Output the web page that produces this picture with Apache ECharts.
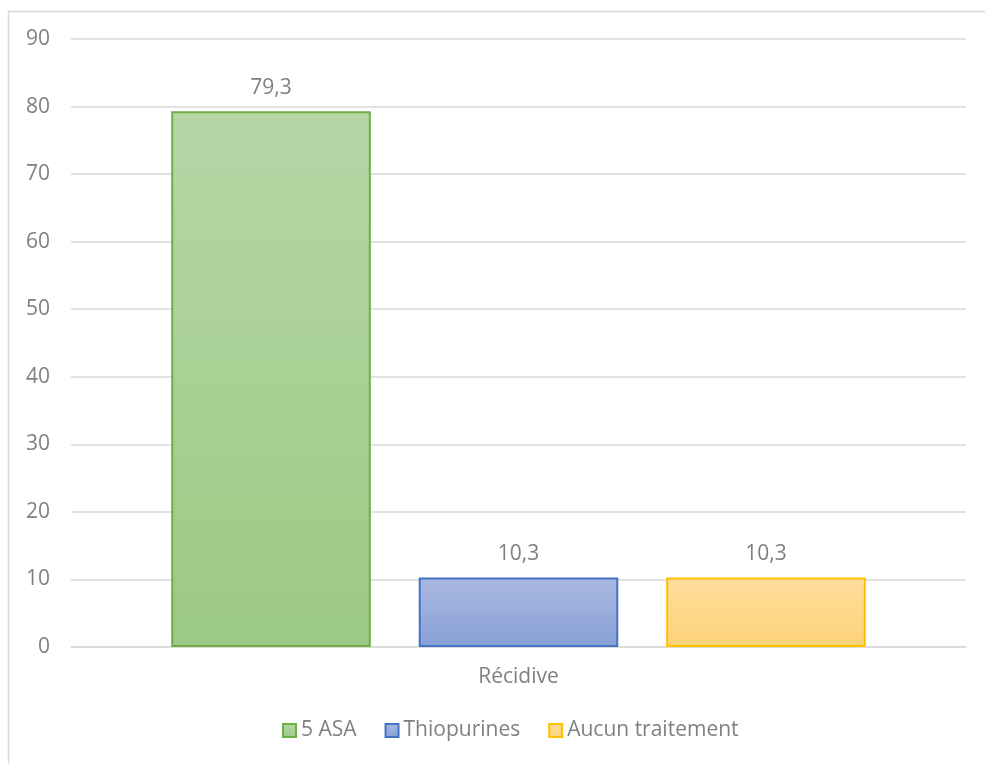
<!DOCTYPE html>
<html>
<head>
<meta charset="utf-8">
<script src="https://cdn.jsdelivr.net/npm/echarts@6/dist/echarts.min.js"></script>
<style>
  html, body { margin: 0; padding: 0; background: #fff; }
  #chart { width: 985px; height: 764px; }
</style>
</head>
<body>
<div id="chart"></div>
<script>
// Category and series values
const categories = ['Récidive'];
const seriesNames = ['5 ASA', 'Thiopurines', 'Aucun traitement'];
const asaValues = [79.3];
const thioValues = [10.3];
const aucunValues = [10.3];
const yTicks = { min: 0, max: 90, interval: 10 };

const textColor = '#808080';
const fontFamily = '"Open Sans", "Noto Sans", "Liberation Sans", sans-serif';
const fontSize = 21;

function grad(top, bottom) {
  return new echarts.graphic.LinearGradient(0, 0, 0, 1, [
    { offset: 0, color: top },
    { offset: 1, color: bottom }
  ]);
}

const styles = [
  { fill: grad('#b6d6a6', '#9bca84'), border: '#70ad47' },
  { fill: grad('#aab8e0', '#87a0d6'), border: '#4472c4' },
  { fill: grad('#fedd9d', '#fdd277'), border: '#ffc000' }
];

const valuesList = [asaValues, thioValues, aucunValues];

const chart = echarts.init(document.getElementById('chart'));
chart.setOption({
  animation: false,
  backgroundColor: '#fff',
  textStyle: { fontFamily: fontFamily },
  graphic: [{
    type: 'rect',
    shape: { x: 8.5, y: 11.5, width: 1000, height: 800 },
    style: { fill: 'none', stroke: '#d9d9d9', lineWidth: 1.5 },
    z: -1
  }],
  grid: { left: 71, right: 19, top: 39, bottom: 117, containLabel: false },
  legend: {
    bottom: 18,
    left: 277,
    itemWidth: 13,
    itemHeight: 13,
    itemGap: 28,
    icon: 'rect',
    textStyle: { color: textColor, fontSize: fontSize, fontFamily: fontFamily },
    data: seriesNames
  },
  xAxis: {
    type: 'category',
    data: categories,
    axisLine: { show: true, lineStyle: { color: '#d9d9d9', width: 1.5 } },
    axisTick: { show: false },
    axisLabel: { color: textColor, fontSize: fontSize, margin: 20, fontFamily: fontFamily }
  },
  yAxis: {
    type: 'value',
    min: yTicks.min,
    max: yTicks.max,
    interval: yTicks.interval,
    axisLine: { show: false },
    axisTick: { show: false },
    axisLabel: { color: textColor, fontSize: fontSize, margin: 21, fontFamily: fontFamily },
    splitLine: { lineStyle: { color: '#d9d9d9', width: 1.5 } }
  },
  series: seriesNames.map((name, i) => ({
    name: name,
    type: 'bar',
    data: valuesList[i],
    barCategoryGap: '22.4%',
    barGap: '24%',
    itemStyle: {
      color: styles[i].fill,
      borderColor: styles[i].border,
      borderWidth: 2
    },
    label: {
      show: true,
      position: 'top',
      distance: 13,
      color: textColor,
      fontSize: fontSize,
      fontFamily: fontFamily,
      formatter: p => String(p.value).replace('.', ',')
    }
  }))
});
</script>
</body>
</html>
